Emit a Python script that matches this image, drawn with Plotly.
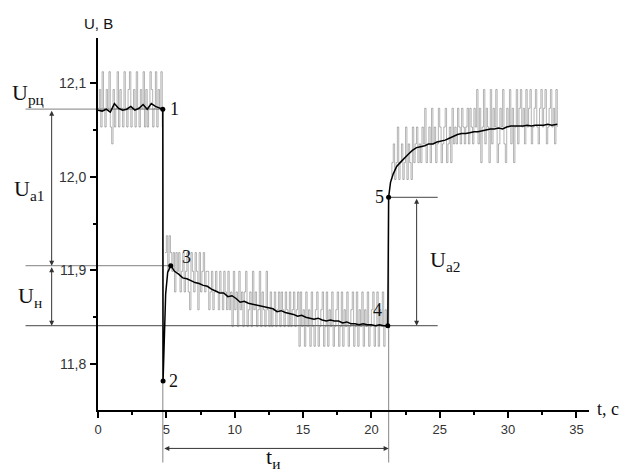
import numpy as np
import plotly.graph_objects as go

# ---------------- data ----------------
# quantisation levels of the recorded voltage (V)
levels_u = [11.819, 11.840, 11.858, 11.877, 11.899, 11.919, 11.937,
            11.997, 12.015, 12.035, 12.053, 12.073, 12.093, 12.112]

# raw samples (level codes), sampled every 0.1 s
raw_dt = 0.1
raw1_start = 0.0
raw1_codes = [11, 12, 10, 13, 11, 10, 12, 11, 13, 10,
              9, 12, 10, 11, 13, 10, 12, 11, 10, 13,
              11, 10, 12, 13, 10, 11, 12, 10, 13, 11,
              10, 12, 11, 13, 10, 12, 10, 11, 13, 12,
              10, 11, 13, 10, 12, 11, 13, 10]
raw2_start = 4.9
raw2_codes = [5, 6, 4, 6, 5,
              4, 5, 3, 5, 4, 5, 3, 4, 5, 3, 4, 5, 3, 2, 5, 4, 3, 5, 4, 2, 5, 3, 4, 5, 3, 4,
              4, 2, 3, 4, 2, 3, 4, 3, 2, 4, 3, 2, 4, 3, 2, 4, 2, 3,
              1, 4, 2, 3, 1, 4, 2, 3, 1, 3, 4, 1, 2, 3, 1, 4, 2, 3, 1, 2, 4, 1, 3, 2, 1, 4, 2, 1,
              3, 1, 2, 3, 1, 2, 3, 1, 3, 2, 1, 3, 2, 1, 3, 1, 2, 3, 1, 2, 3,
              0, 3, 1, 2, 0, 3, 1, 2, 0, 3, 1, 0, 2, 3, 0, 1, 2, 3, 0, 1,
              3, 0, 2, 1, 3, 0, 1, 2, 3, 0, 1, 3, 0, 2, 1, 3, 0, 1, 2, 3,
              0, 1, 3, 0, 2, 1, 3, 0, 2, 1, 3, 0, 1, 2, 3, 0, 1, 3, 0, 2,
              1, 3, 0, 2, 1]
raw3_start = 21.4
raw3_codes = [7, 8, 9, 7, 8, 10, 7, 8, 9, 7, 8, 10, 7, 9, 8, 7, 10,
              8, 9, 10, 8, 9,
              8, 10, 9, 11, 8, 9, 10, 8, 11, 9, 10, 8, 9, 11, 10, 8, 9, 10, 11, 8,
              9, 10, 8, 11, 9, 10,
              9, 11, 10, 9, 11, 10, 9, 10, 11, 9, 11, 10, 9, 11, 10,
              12, 9, 11, 8, 10, 12, 9, 11, 10, 8, 12, 9, 11, 10, 12, 8, 9, 11, 10, 12,
              9, 8, 11, 10, 12, 9, 11, 8, 10, 12,
              9, 11, 12, 10, 11, 9, 12, 10, 11, 12, 9, 10, 11, 12, 10, 9, 11, 12, 10, 11,
              12, 9, 10, 11, 12, 10, 11, 9, 12, 10]

# smoothed curve
smooth_t = [0, 0.3, 0.6, 0.9, 1.2, 1.5, 1.8, 2.1, 2.4, 2.7, 3.0, 3.3, 3.6, 3.9, 4.2, 4.5, 4.74,
            4.76, 4.95, 5.1, 5.32, 5.6, 5.9, 6.2, 6.5, 6.8, 7.1, 7.4, 7.7, 8.0, 8.3, 8.6, 8.9,
            9.2, 9.5, 9.8, 10.1, 10.4, 10.7, 11.0, 11.3, 11.6, 11.9, 12.2, 12.5, 12.8, 13.1,
            13.4, 13.7, 14.0, 14.3, 14.6, 14.9, 15.2, 15.5, 15.8, 16.1, 16.4, 16.7, 17.0, 17.3,
            17.6, 17.9, 18.2, 18.5, 18.8, 19.1, 19.4, 19.7, 20.0, 20.3, 20.6, 20.9, 21.2,
            21.26, 21.4, 21.6, 21.85, 22.1, 22.4, 22.7, 23.0, 23.3, 23.6, 23.9, 24.2, 24.5,
            24.8, 25.1, 25.4, 25.7, 26.0, 26.3, 26.6, 26.9, 27.2, 27.5, 27.8, 28.1, 28.4, 28.7,
            29.0, 29.3, 29.6, 29.9, 30.2, 30.5, 30.8, 31.1, 31.4, 31.7, 32.0, 32.3, 32.6, 32.9,
            33.2, 33.6]
smooth_u = [12.071, 12.070, 12.072, 12.069, 12.078, 12.073, 12.071, 12.072, 12.075, 12.071,
            12.073, 12.077, 12.072, 12.078, 12.075, 12.073, 12.072,
            11.782, 11.875, 11.898, 11.905, 11.899, 11.896, 11.892, 11.891, 11.889, 11.887,
            11.886, 11.884, 11.883, 11.880, 11.878, 11.876, 11.876, 11.872, 11.873, 11.870,
            11.866, 11.867, 11.865, 11.864, 11.863, 11.862, 11.861, 11.860, 11.859, 11.856,
            11.857, 11.855, 11.854, 11.853, 11.851, 11.852, 11.850, 11.849, 11.848, 11.849,
            11.847, 11.846, 11.847, 11.846, 11.846, 11.844, 11.845, 11.843, 11.843, 11.842,
            11.843, 11.842, 11.842, 11.841, 11.842, 11.841, 11.841,
            11.978, 11.994, 12.003, 12.011, 12.015, 12.020, 12.024, 12.028, 12.031, 12.032,
            12.033, 12.035, 12.035, 12.037, 12.038, 12.039, 12.041, 12.043, 12.045, 12.046,
            12.046, 12.047, 12.048, 12.048, 12.049, 12.050, 12.051, 12.051, 12.052, 12.051,
            12.053, 12.054, 12.054, 12.054, 12.054, 12.055, 12.054, 12.055, 12.055, 12.055,
            12.056, 12.055, 12.056]

# characteristic points 1..5
key_t = [4.74, 4.76, 5.32, 21.2, 21.26]
key_u = [12.072, 11.782, 11.905, 11.841, 11.978]
key_labels = ["1", "2", "3", "4", "5"]

# guide levels / positions
U_rc = 12.072
U_3 = 11.905
U_4 = 11.841
U_5 = 11.978
t_start = 4.74
t_end = 21.26
left_guide_t = -5.3
right_guide_t = 24.85
guide_bottom_u = 11.695
arrow_left_t = -3.39
arrow_right_t = 23.31
arrow_t_u = 11.710

x_ticks = [0, 5, 10, 15, 20, 25, 30, 35]
y_ticks = [11.8, 11.9, 12.0, 12.1]

# ---------------- layout geometry ----------------
W, H = 622, 473
ML, MR, MT, MB = 98, 33, 38, 63
PW, PH = W - ML - MR, H - MT - MB
XR = [0.0, 35.92]
YR = [11.751, 11.751 + PH / 937.0]


def xp(t):
    return (t - XR[0]) / (XR[1] - XR[0])


def yp(u):
    return (u - YR[0]) / (YR[1] - YR[0])


def dxpix(t1, t2):
    return (t2 - t1) * PW / (XR[1] - XR[0])


def dypix(u1, u2):
    return -(u2 - u1) * PH / (YR[1] - YR[0])


fig = go.Figure()

raw_color = "rgba(105,105,105,0.5)"
for start, codes in [(raw1_start, raw1_codes), (raw2_start, raw2_codes), (raw3_start, raw3_codes)]:
    tt = start + raw_dt * np.arange(len(codes))
    vals = [levels_u[c] for c in codes]
    fig.add_trace(go.Scatter(x=tt, y=vals, mode="lines",
                             line=dict(color=raw_color, width=1, shape="hv"),
                             hoverinfo="skip", showlegend=False))

fig.add_trace(go.Scatter(x=smooth_t, y=smooth_u, mode="lines",
                         line=dict(color="black", width=1.5), showlegend=False))
fig.add_trace(go.Scatter(x=key_t, y=key_u, mode="markers",
                         marker=dict(color="black", size=5), showlegend=False, cliponaxis=False))

guide_col = "#9a9a9a"
shapes = []


def hline(u, t0, t1, color=guide_col, w=1.2):
    shapes.append(dict(type="line", xref="paper", yref="paper", x0=xp(t0), x1=xp(t1),
                       y0=yp(u), y1=yp(u), line=dict(color=color, width=w), layer="below"))


def vline(t, u0, u1, color=guide_col, w=1.2):
    shapes.append(dict(type="line", xref="paper", yref="paper", x0=xp(t), x1=xp(t),
                       y0=yp(u0), y1=yp(u1), line=dict(color=color, width=w), layer="below"))


hline(U_rc, left_guide_t, t_start)
hline(U_3, left_guide_t, key_t[2])
hline(U_4, left_guide_t, right_guide_t, color="#6a6a6a")
hline(U_5, t_end, right_guide_t, color="#6a6a6a")
vline(t_start, U_rc, guide_bottom_u)
vline(t_end, U_5, guide_bottom_u)

annotations = []


def darrow(t1, u1, t2, u2):
    annotations.append(dict(xref="paper", yref="paper", x=xp(t2), y=yp(u2),
                            axref="pixel", ayref="pixel", ax=dxpix(t2, t1), ay=dypix(u2, u1),
                            text="", showarrow=True, arrowhead=2, arrowside="end+start",
                            arrowsize=1.0, arrowwidth=1, arrowcolor="#333333",
                            standoff=0, startstandoff=0))


darrow(arrow_left_t, U_rc, arrow_left_t, U_3)
darrow(arrow_left_t, U_3, arrow_left_t, U_4)
darrow(arrow_right_t, U_5, arrow_right_t, U_4)
darrow(t_start, arrow_t_u, t_end, arrow_t_u)

serif = "Liberation Serif, Times New Roman, serif"
sans = "Liberation Sans, Arial, sans-serif"


def label(text, t, u, size, family=serif, xanchor="center", yanchor="middle"):
    annotations.append(dict(xref="paper", yref="paper", x=xp(t), y=yp(u), text=text,
                            showarrow=False, xanchor=xanchor, yanchor=yanchor,
                            font=dict(family=family, size=size, color="#111111")))


label("U<sub>рц</sub>", -5.14, 12.088, 22)
label("U<sub>a1</sub>", -5.07, 11.986, 22)
label("U<sub>н</sub>", -4.95, 11.872, 22)
label("U<sub>a2</sub>", 25.4, 11.910, 22)
label("t<sub>и</sub>", 12.77, 11.6825, 22, yanchor="bottom")
label("U, B", 0.0, 12.164, 15, family=sans)
label("t, c", 37.3, 11.752, 18)

offs = [(12, 0), (10, 0), (16, 9), (-10, 16), (-9, 0)]
for t, u, s, (dx, dy) in zip(key_t, key_u, key_labels, offs):
    annotations.append(dict(xref="paper", yref="paper", x=xp(t), y=yp(u), text=s,
                            showarrow=False, xshift=dx, yshift=dy,
                            xanchor="center", yanchor="middle",
                            font=dict(family=serif, size=18, color="#111111")))

fig.update_layout(
    width=W, height=H, autosize=False,
    margin=dict(l=ML, r=MR, t=MT, b=MB, pad=0),
    paper_bgcolor="white", plot_bgcolor="white",
    separators=", ",
    shapes=shapes, annotations=annotations,
    showlegend=False,
)
fig.update_xaxes(range=XR, showline=True, linecolor="black", linewidth=2, showgrid=False,
                 zeroline=False, ticks="outside", ticklen=6, tickwidth=1.5, tickcolor="black",
                 tickvals=x_ticks, ticktext=[str(v) for v in x_ticks],
                 minor=dict(tickvals=[2.5, 7.5, 12.5, 17.5, 22.5, 27.5, 32.5], ticks="outside",
                            ticklen=3, tickwidth=1.5, tickcolor="black"),
                 tickfont=dict(family=sans, size=13, color="#333333"))
fig.update_yaxes(range=YR, showline=True, linecolor="black", linewidth=2, showgrid=False,
                 zeroline=False, ticks="outside", ticklen=6, tickwidth=1.5, tickcolor="black",
                 tickvals=y_ticks, tickformat=".1f",
                 minor=dict(tickvals=[11.75, 11.85, 11.95, 12.05], ticks="outside",
                            ticklen=3, tickwidth=1.5, tickcolor="black"),
                 ticklabelstandoff=1,
                 tickfont=dict(family=sans, size=14, color="#333333"))

fig.write_html("out.html")
